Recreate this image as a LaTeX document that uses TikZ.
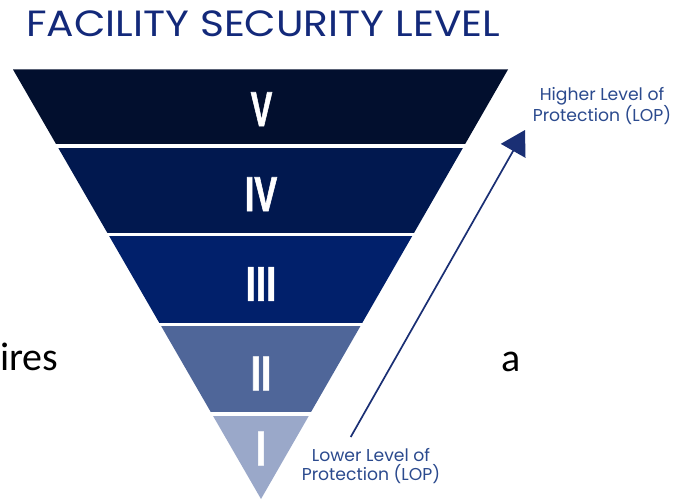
\documentclass[tikz,border=0pt]{standalone}
\usepackage{fontspec}
\setmainfont{Poppins}
\newfontfamily\numfont[FakeBold=1.5]{Liberation Sans}
\newfontfamily\bodyfont{Carlito}
\usetikzlibrary{arrows.meta}
\definecolor{bandV}{HTML}{020F2E}
\definecolor{bandIV}{HTML}{01184F}
\definecolor{bandIII}{HTML}{01206B}
\definecolor{bandII}{HTML}{4F6699}
\definecolor{bandI}{HTML}{9AA8C9}
\definecolor{titlecol}{HTML}{13297A}
\definecolor{labcol}{HTML}{2B4A8E}
\definecolor{arrowcol}{HTML}{1A2F74}
\tikzset{
  numeral/.style={text=white, inner sep=0pt, font=\numfont\bfseries\fontsize{49}{49}\selectfont},
  lab/.style={text=labcol, align=center, inner sep=0pt, font=\fontsize{17.2}{18.5}\selectfont},
  bodytext/.style={text=black, inner sep=0pt, font=\bodyfont\fontsize{40}{40}\selectfont}
}
\newcommand{\bandfill}[3]{%
  \begin{scope}
    \clip (0,#1) rectangle (677,#2);
    \fill[#3] (13,69.5) -- (508,69.5) -- (261,499) -- cycle;
  \end{scope}}
\begin{document}
\begin{tikzpicture}[x=1pt,y=-1pt]
\useasboundingbox (0,0) rectangle (677,500);
\fill[white] (0,0) rectangle (677,500);
% title
\node[anchor=base west, inner sep=0pt, text=titlecol, xscale=1.117, font=\fontsize{36.5}{37}\selectfont] (title) at (26,36.7) {FACILITY SECURITY LEVEL};
% bands
\bandfill{69.5}{143.5}{bandV}
\bandfill{148}{232.7}{bandIV}
\bandfill{236.7}{322.7}{bandIII}
\bandfill{326.7}{411.7}{bandII}
\bandfill{416}{500}{bandI}
% numerals
\node[numeral, xscale=0.66] (nV) at (261.5,109.2) {V};
\node[numeral, xscale=0.7] (nIV) at (261,194.2) {IV};
\node[numeral, xscale=0.75] (nIII) at (261,284) {III};
\node[numeral, xscale=0.75] (nII) at (261,373.5) {II};
\node[numeral, xscale=0.75] (nI) at (261,448.5) {I};
% arrow
\coordinate (astart) at (350.7,437);
\coordinate (aend) at (525,130);
\draw[arrowcol, line width=1.7pt, -{Triangle[length=24pt,width=28pt]}] (astart) -- (aend);
% labels
\node[lab] (high) at (602,106) {Higher Level of\\Protection (LOP)};
\node[lab] (low) at (371,466) {Lower Level of\\Protection (LOP)};
% background text fragments
\node[bodytext, anchor=base west] (ires) at (0,370.5) {ires};
\node[bodytext, anchor=base west] (a) at (501,371) {a};
\end{tikzpicture}
\end{document}
